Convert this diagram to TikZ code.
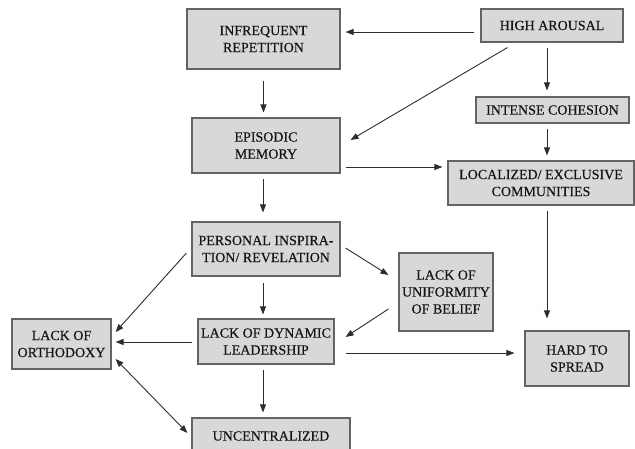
\documentclass[tikz,border=0pt]{standalone}
\usepackage{fontspec}
\setmainfont{Liberation Serif}[FakeBold=0.35]
\usetikzlibrary{arrows.meta,calc}
\definecolor{boxfill}{RGB}{216,216,216}
\definecolor{boxline}{RGB}{100,100,100}
\definecolor{ink}{RGB}{20,20,20}
\definecolor{arrowink}{RGB}{45,45,45}
\begin{document}
\begin{tikzpicture}[x=1pt,y=-1pt,
  cbox/.style={draw=boxline,line width=1.1pt,fill=boxfill,text=ink,
    inner sep=0pt,align=center,
    font=\fontsize{14}{17}\selectfont},
  flow/.style={draw=arrowink,line width=0.9pt,
    -{Triangle[length=8pt,width=6pt]}},
  flow2/.style={draw=arrowink,line width=0.9pt,
    {Triangle[length=8pt,width=6pt]}-{Triangle[length=8pt,width=6pt]}}]
\useasboundingbox (0,0) rectangle (635,448);
\clip (0,0) rectangle (635,448);

% boxes
\node[cbox,minimum width=153pt,minimum height=60pt] (infreq) at (263.5,39) {INFREQUENT\\REPETITION};
\node[cbox,minimum width=142pt,minimum height=33pt] (high) at (552,25.5) {HIGH AROUSAL};
\node[cbox,minimum width=153pt,minimum height=26pt] (intense) at (552.5,110) {INTENSE COHESION};
\node[cbox,minimum width=186pt,minimum height=44pt] (local) at (541,183) {LOCALIZED/ EXCLUSIVE\\COMMUNITIES};
\node[cbox,minimum width=148pt,minimum height=55pt] (episodic) at (266,145.5) {EPISODIC\\MEMORY};
\node[cbox,minimum width=148pt,minimum height=54pt] (personal) at (266,249) {PERSONAL INSPIRA-\\TION/ REVELATION};
\node[cbox,minimum width=94pt,minimum height=78pt] (uniform) at (446,292) {LACK OF\\UNIFORMITY\\OF BELIEF};
\node[cbox,minimum width=136pt,minimum height=45pt] (leader) at (266,341.5) {LACK OF DYNAMIC\\LEADERSHIP};
\node[cbox,minimum width=104pt,minimum height=55pt] (hard) at (577,358.5) {HARD TO\\SPREAD};
\node[cbox,minimum width=99pt,minimum height=50pt] (ortho) at (61.5,344) {LACK OF\\ORTHODOXY};
\node[cbox,minimum width=158pt,minimum height=36pt] (uncent) at (271,436) {UNCENTRALIZED};

% connectors
\draw[flow] ($(high.west)+(-6,6.5)$) -- ($(infreq.east)+(5,-7)$);
\draw[flow] ($(infreq.south)+(0,11)$) -- ($(episodic.north)+(-2.5,-5)$);
\draw[flow] ($(high.south west)+(27,5)$) -- ($(episodic.east)+(10,-5.5)$);
\draw[flow] ($(high.south)+(-5,5)$) -- ($(intense.north)+(-5.5,-6)$);
\draw[flow] ($(intense.south)+(-5.5,5)$) -- ($(local.north)+(6,-5)$);
\draw[flow] ($(episodic.east)+(5,21.5)$) -- ($(local.west)+(-5,-16)$);
\draw[flow] ($(episodic.south)+(-3,5)$) -- ($(personal.north)+(-3,-9)$);
\draw[flow] ($(local.south)+(6,5)$) -- ($(hard.north)+(-30,-12)$);
\draw[flow] ($(personal.east)+(5,-1)$) -- ($(uniform.west)+(-10,-17)$);
\draw[flow] ($(uniform.west)+(-10,17)$) -- ($(leader.east)+(11,-4.5)$);
\draw[flow] ($(personal.south)+(-3,6)$) -- ($(leader.north)+(-3,-4)$);
\draw[flow] ($(leader.east)+(11,11.5)$) -- ($(hard.west)+(-10,-5.5)$);
\draw[flow] ($(personal.west)+(-5,4)$) -- ($(ortho.east)+(4,-12)$);
\draw[flow] ($(leader.west)+(-5,0.5)$) -- ($(ortho.east)+(4,-2)$);
\draw[flow2] ($(ortho.east)+(4,15)$) -- ($(uncent.west)+(-4,-3)$);
\draw[flow] ($(leader.south)+(-3,5)$) -- ($(uncent.north)+(-8,-5)$);
\end{tikzpicture}
\end{document}
